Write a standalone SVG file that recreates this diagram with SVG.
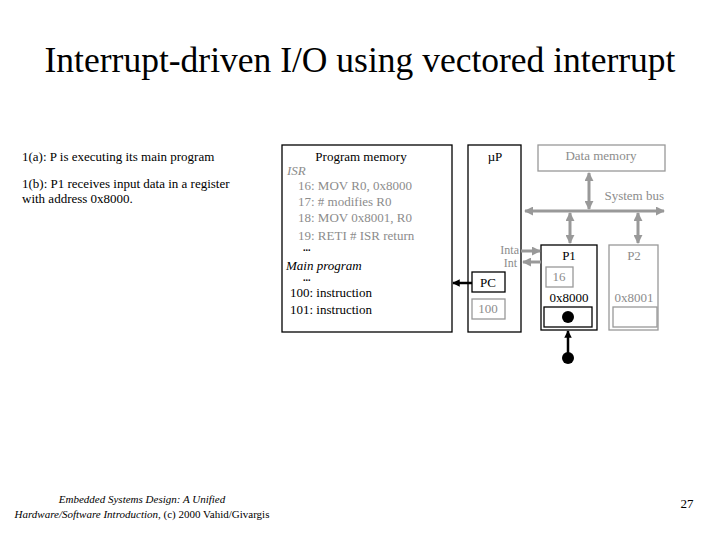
<svg xmlns="http://www.w3.org/2000/svg" width="720" height="540" viewBox="0 0 720 540">
<style>
text{font-family:"Liberation Serif","Times New Roman",serif;fill:#000}
.g{fill:#8c8c8c}
.s{font-size:13px}
.bx{fill:none;stroke:#000;stroke-width:1.3}
.gb{fill:none;stroke:#999;stroke-width:1.3}
.ga{stroke:#999;stroke-width:3;fill:none}
.ba{stroke:#000;stroke-width:2.5;fill:none}
</style>
<defs>
<marker id="gh" viewBox="0 0 10 10" refX="9" refY="5" markerWidth="3" markerHeight="3" orient="auto-start-reverse"><path d="M0,0L10,5L0,10z" fill="#999"/></marker>
<marker id="bh" viewBox="0 0 10 10" refX="9" refY="5" markerWidth="3" markerHeight="3" orient="auto-start-reverse"><path d="M0,0L10,5L0,10z" fill="#000"/></marker>
</defs>
<rect width="720" height="540" fill="#fff"/>
<text x="360" y="72" text-anchor="middle" font-size="35.5">Interrupt-driven I/O using vectored interrupt</text>
<text x="22" y="161" class="s">1(a): P is executing its main program</text>
<text x="22" y="188" class="s">1(b): P1 receives input data in a register</text>
<text x="22" y="203" class="s">with address 0x8000.</text>
<g id="progmem" xml:space="preserve">
<rect x="282" y="145" width="170" height="187" class="bx"/>
<text x="361" y="161" class="s" text-anchor="middle">Program memory</text>
<text x="287" y="175" class="s g" font-style="italic">ISR</text>
<text x="298" y="190" class="s g">16:  MOV R0, 0x8000</text>
<text x="298" y="206" class="s g">17:  # modifies R0</text>
<text x="298" y="222" class="s g">18:  MOV 0x8001, R0</text>
<text x="298" y="240" class="s g">19:  RETI  # ISR return</text>
<text x="303" y="251" font-size="10" font-weight="bold">...</text>
<text x="286" y="270" class="s" font-style="italic">Main program</text>
<text x="303" y="281" font-size="10" font-weight="bold">...</text>
<text x="290" y="297" class="s">100:  instruction</text>
<text x="290" y="314" class="s">101:  instruction</text>
</g>
<g id="up">
<rect x="468" y="145" width="53" height="187" class="bx"/>
<text x="495" y="161" class="s" text-anchor="middle">µP</text>
<rect x="472" y="272" width="33" height="20" class="bx"/>
<text x="488" y="287" class="s" text-anchor="middle">PC</text>
<rect x="472" y="299" width="33" height="20" class="gb"/>
<text x="488" y="313" class="s g" text-anchor="middle">100</text>
<text x="519" y="254" font-size="12" class="g" text-anchor="end">Inta</text>
<text x="517" y="267" font-size="12" class="g" text-anchor="end">Int</text>
</g>
<g id="datamem">
<rect x="538" y="145" width="127" height="26" class="gb"/>
<text x="601" y="160" class="s g" text-anchor="middle">Data memory</text>
</g>
<text x="664" y="200" class="s g" text-anchor="end">System bus</text>
<g id="p1">
<rect x="541" y="245" width="56" height="85" class="bx"/>
<text x="569" y="260" class="s" text-anchor="middle">P1</text>
<rect x="546" y="267" width="27" height="20" class="gb"/>
<text x="559" y="281" class="s g" text-anchor="middle">16</text>
<text x="569" y="302" class="s" text-anchor="middle">0x8000</text>
<rect x="544" y="307" width="48" height="20" class="bx"/>
<circle cx="568" cy="317" r="6" fill="#000"/>
</g>
<g id="p2">
<rect x="609" y="245" width="49" height="85" class="gb"/>
<text x="634" y="260" class="s g" text-anchor="middle">P2</text>
<text x="634" y="302" class="s g" text-anchor="middle">0x8001</text>
<rect x="613" y="307" width="44" height="20" class="gb"/>
</g>
<circle id="src" cx="568" cy="358" r="6" fill="#000"/>
<g id="connectors">
<line x1="525" y1="211" x2="664" y2="211" class="ga" marker-start="url(#gh)" marker-end="url(#gh)"/>
<line x1="589" y1="173" x2="589" y2="209" class="ga" marker-start="url(#gh)" marker-end="url(#gh)"/>
<line x1="570" y1="213" x2="570" y2="243" class="ga" marker-start="url(#gh)" marker-end="url(#gh)"/>
<line x1="638" y1="213" x2="638" y2="243" class="ga" marker-start="url(#gh)" marker-end="url(#gh)"/>
<line x1="521" y1="251" x2="540" y2="251" class="ga" marker-end="url(#gh)"/>
<line x1="541" y1="262" x2="523" y2="262" class="ga" marker-end="url(#gh)"/>
<line x1="472" y1="283" x2="453" y2="283" class="ba" marker-end="url(#bh)"/>
<line x1="568" y1="358" x2="568" y2="331" class="ba" marker-end="url(#bh)"/>
</g>
<text x="142" y="503" font-size="11" font-style="italic" text-anchor="middle">Embedded Systems Design: A Unified</text>
<text x="142" y="518" font-size="11" text-anchor="middle"><tspan font-style="italic">Hardware/Software Introduction</tspan>, (c) 2000 Vahid/Givargis</text>
<text x="687" y="508" font-size="13" text-anchor="middle">27</text>
</svg>
